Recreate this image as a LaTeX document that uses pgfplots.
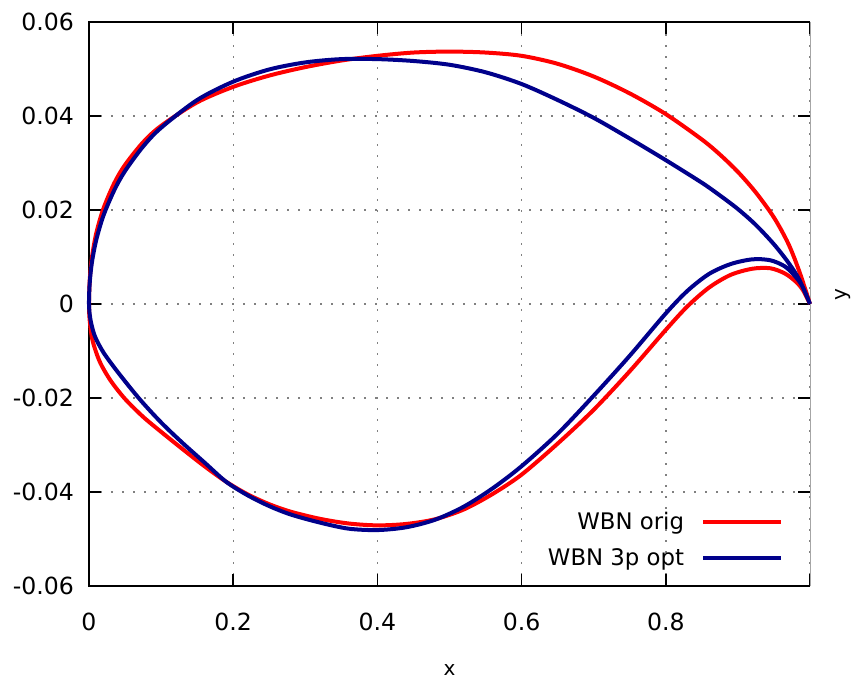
\documentclass[border=0pt]{standalone}
\usepackage{fontspec}
\setmainfont{DejaVu Sans}
\usepackage{pgfplots}
\pgfplotsset{compat=1.18}
\definecolor{wbnred}{RGB}{255,0,0}
\definecolor{wbnblue}{RGB}{0,0,139}
\begin{document}
\begin{tikzpicture}
\useasboundingbox (-44.5pt,-48.5pt) rectangle (382.5pt,293pt);
\begin{axis}[
  at={(0,0)}, anchor=south west,
  scale only axis, width=360.5pt, height=282pt,
  xmin=0, xmax=1, ymin=-0.06, ymax=0.06,
  scaled ticks=false,
  xtick={0,0.2,0.4,0.6,0.8,1},
  xticklabels={0,0.2,0.4,0.6,0.8,{}},
  ytick={-0.06,-0.04,-0.02,0,0.02,0.04,0.06},
  yticklabels={-0.06,-0.04,-0.02,0,0.02,0.04,0.06},
  tick align=inside,
  major tick length=6pt,
  tick style={black, line width=0.75pt},
  xtick pos=both, ytick pos=both,
  axis line style={draw=none},
  grid=major,
  major grid style={black!50, line width=0.7pt, dash pattern=on 1.1pt off 4.4pt},
  tick label style={font=\fontsize{11.8}{14}\selectfont},
  yticklabel style={xshift=-4pt},
  xticklabel style={yshift=-10pt},
  label style={font=\fontsize{11.8}{14}\selectfont},
  xlabel={x}, ylabel={y},
  every axis x label/.style={at={(axis description cs:0.5,0)}, yshift=-42pt, anchor=center},
  every axis y label/.style={at={(axis description cs:1,0.5)}, xshift=16.5pt, yshift=4.5pt, rotate=90, anchor=center},
  clip=false,
  legend cell align=right,
  legend plot pos=right,
  legend image code/.code={\draw[#1] (0pt,0pt) -- (39pt,0pt);},
  legend style={draw=none, fill=none, at={(rel axis cs:0.9626,0.1315)}, anchor=north east,
    inner sep=0pt, outer sep=0pt, row sep=8pt, column sep=8.5pt,
    font=\fontsize{11.4}{13.5}\selectfont, nodes={inner sep=0pt}},
]
\draw[black, line width=0.6pt] (rel axis cs:1,1) -- (rel axis cs:0,1) -- (rel axis cs:0,0) -- (rel axis cs:1,0);
\draw[black!35, line width=0.4pt] (rel axis cs:1,0) -- (rel axis cs:1,1);

\addplot[wbnred, line width=2pt, smooth] coordinates {
(1.000,0.0000) (0.985,0.0070) (0.970,0.0128) (0.950,0.0184) (0.925,0.0237)
(0.900,0.0281) (0.875,0.0318) (0.850,0.0350) (0.800,0.0404) (0.750,0.0448) (0.700,0.0484)
(0.650,0.0511) (0.600,0.0528) (0.550,0.0535) (0.500,0.0537) (0.450,0.0535)
(0.400,0.0528) (0.350,0.0518) (0.300,0.0504) (0.250,0.0486) (0.200,0.0462)
(0.150,0.0429) (0.100,0.0379) (0.075,0.0344) (0.050,0.0296) (0.035,0.0257)
(0.020,0.0203) (0.010,0.0150) (0.004,0.0098) (0.001,0.0050) (0.000,0.0000)
(0.001,-0.0035) (0.005,-0.0078) (0.015,-0.0123) (0.030,-0.0163) (0.050,-0.0202)
(0.075,-0.0240) (0.100,-0.0272) (0.130,-0.0309) (0.160,-0.0345) (0.190,-0.0378)
(0.220,-0.0405) (0.250,-0.0426) (0.280,-0.0442) (0.320,-0.0457) (0.360,-0.0467)
(0.400,-0.0471) (0.440,-0.0468) (0.480,-0.0458) (0.520,-0.0437) (0.560,-0.0404)
(0.600,-0.0363) (0.650,-0.0297) (0.700,-0.0225) (0.750,-0.0143) (0.800,-0.0055)
(0.830,-0.0005) (0.860,0.0035) (0.890,0.0062) (0.920,0.0075) (0.945,0.0076)
(0.965,0.0065) (0.980,0.0048) (0.990,0.0030) (1.000,0.0000)
};
\addlegendentry{WBN orig}

\addplot[wbnblue, line width=2pt, smooth] coordinates {
(1.000,0.0000) (0.985,0.0052) (0.970,0.0088) (0.950,0.0127) (0.925,0.0168)
(0.900,0.0202) (0.875,0.0231) (0.850,0.0258) (0.800,0.0306) (0.750,0.0352)
(0.700,0.0396) (0.650,0.0434)
(0.600,0.0468) (0.550,0.0493) (0.500,0.0509) (0.450,0.0517) (0.400,0.0521)
(0.350,0.0521) (0.300,0.0514) (0.250,0.0499) (0.200,0.0473) (0.150,0.0434)
(0.100,0.0375) (0.075,0.0335) (0.050,0.0283) (0.035,0.0242) (0.020,0.0188)
(0.010,0.0136) (0.004,0.0088) (0.001,0.0045) (0.000,0.0000)
(0.002,-0.0033) (0.008,-0.0068) (0.020,-0.0103) (0.040,-0.0145) (0.070,-0.0202)
(0.100,-0.0252) (0.130,-0.0296) (0.160,-0.0337) (0.190,-0.0378) (0.220,-0.0407)
(0.250,-0.0430) (0.280,-0.0448) (0.320,-0.0465) (0.360,-0.0478) (0.400,-0.0481)
(0.440,-0.0475) (0.480,-0.0459) (0.520,-0.0431) (0.560,-0.0392) (0.600,-0.0345)
(0.650,-0.0276) (0.700,-0.0195) (0.750,-0.0110) (0.800,-0.0020) (0.830,0.0028)
(0.860,0.0064) (0.890,0.0085) (0.920,0.0095) (0.945,0.0093) (0.965,0.0080)
(0.980,0.0058) (0.990,0.0036) (1.000,0.0000)
};
\addlegendentry{WBN 3p opt}
\end{axis}
\end{tikzpicture}
\end{document}
